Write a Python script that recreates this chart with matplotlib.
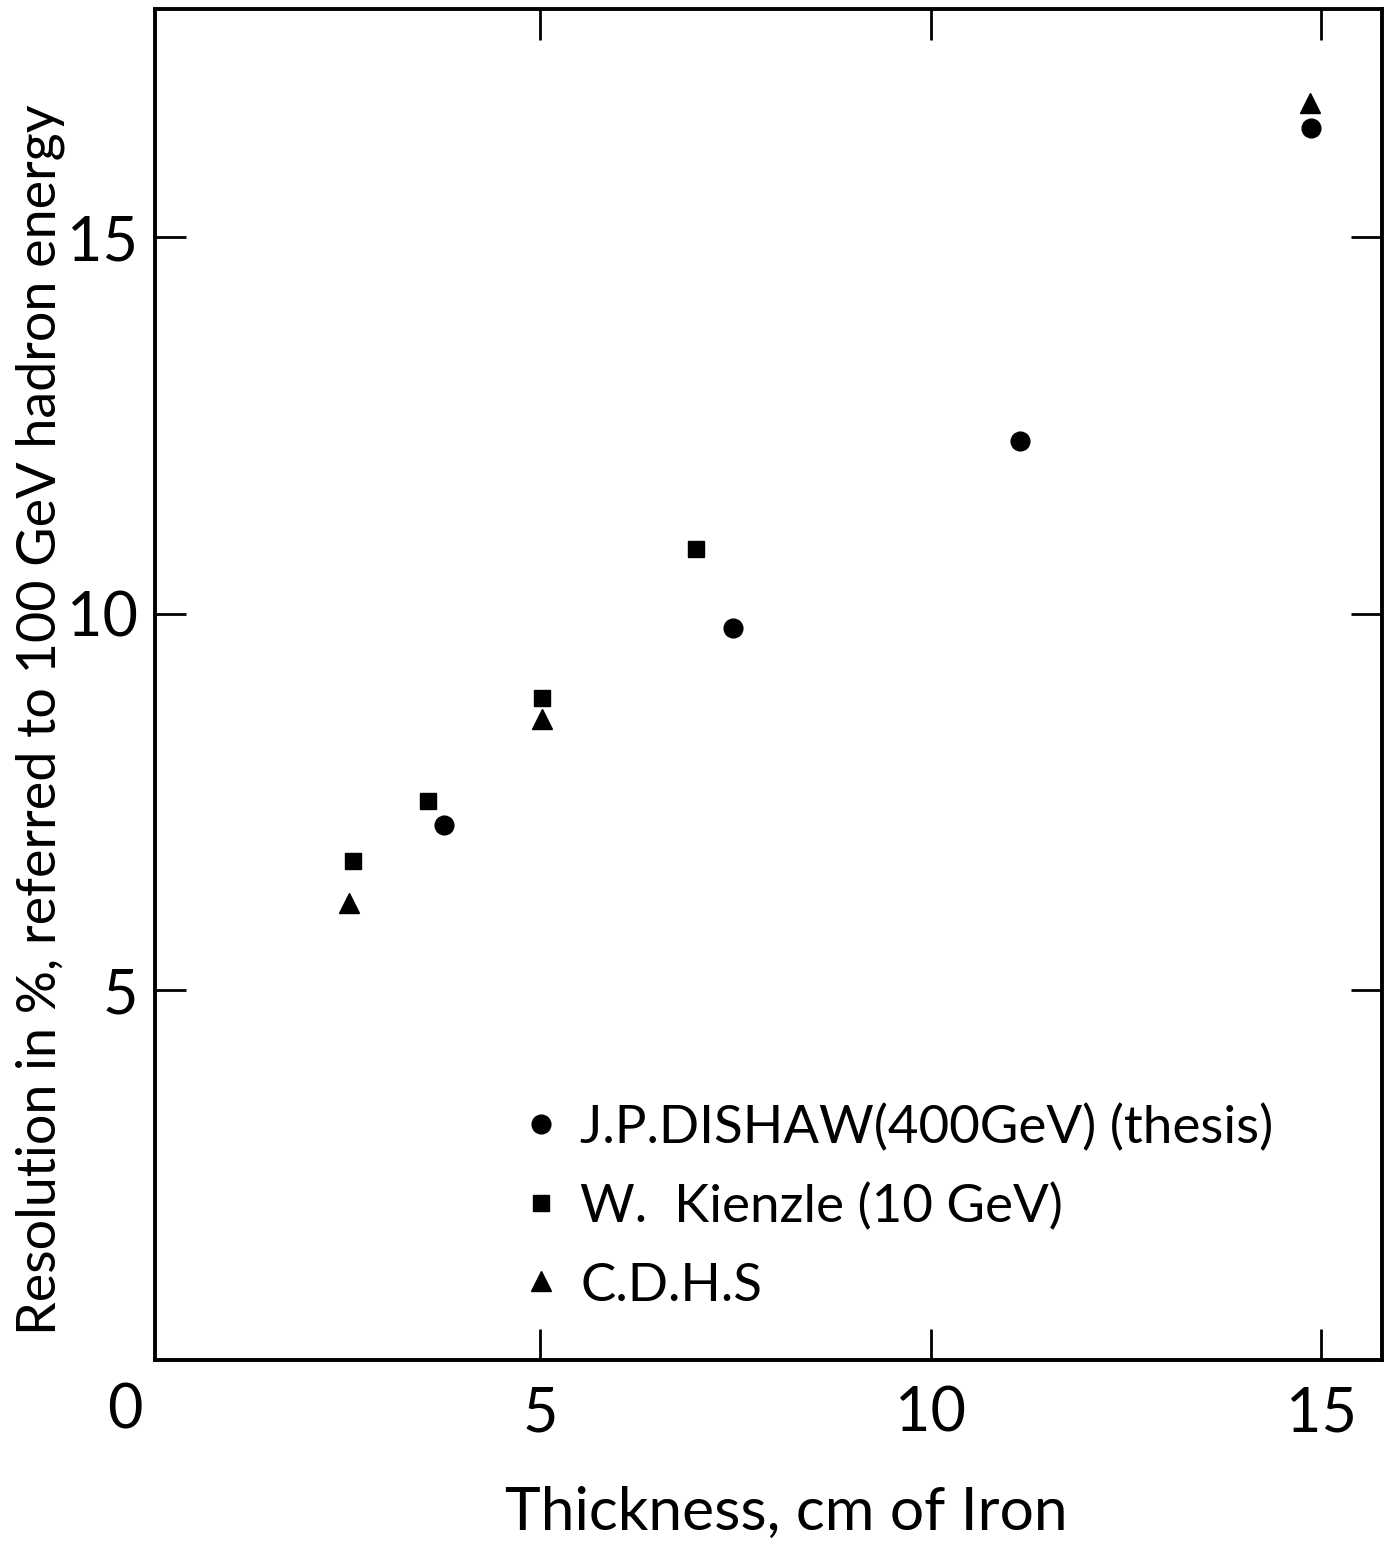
import matplotlib
matplotlib.use("Agg")
import matplotlib.pyplot as plt

# ---- data ----
dishaw_x = [3.77, 7.47, 11.15, 14.87]
dishaw_y = [7.19, 9.81, 12.29, 16.45]
kienzle_x = [2.61, 3.57, 5.03, 7.00]
kienzle_y = [6.72, 7.51, 8.88, 10.86]
cdhs_x = [2.55, 5.03, 14.86]
cdhs_y = [6.16, 8.60, 16.78]

series_labels = ["J.P.DISHAW(400GeV) (thesis)", "W.  Kienzle (10 GeV)", "C.D.H.S"]
x_ticks = [5, 10, 15]
y_ticks = [5, 10, 15]
x_label = "Thickness, cm of Iron"
y_label = "Resolution in %, referred to 100 GeV hadron energy"

plt.rcParams["font.family"] = ["Lato", "DejaVu Sans"]

W, H = 1400, 1547
fig = plt.figure(figsize=(W / 100, H / 100), dpi=100)
L, R, T, B = 155, 1382, 9, 1360
ax = fig.add_axes([L / W, 1 - B / H, (R - L) / W, (B - T) / H])

ax.plot(dishaw_x, dishaw_y, linestyle="none", marker="o", ms=13.5, color="black",
        label=series_labels[0])
ax.plot(kienzle_x, kienzle_y, linestyle="none", marker="s", ms=11, color="black",
        label=series_labels[1])
ax.plot(cdhs_x, cdhs_y, linestyle="none", marker="^", ms=15, color="black",
        label=series_labels[2])

ax.set_xlim(0.07, 15.78)
ax.set_ylim(0.09, 18.03)
ax.set_xticks(x_ticks)
ax.set_yticks(y_ticks)
ax.set_xticklabels([str(v) for v in x_ticks])
ax.set_yticklabels([str(v) for v in y_ticks])
ax.tick_params(direction="in", length=22, width=2.0, top=True, right=True,
               labelsize=44)
ax.tick_params(axis="x", pad=18)
ax.tick_params(axis="y", pad=12)
for s in ax.spines.values():
    s.set_linewidth(2.8)

# origin label "0" below the lower-left corner
ax.text(-0.31, -0.0375, "0", transform=ax.get_xaxis_transform(), ha="center",
        va="center", fontsize=44, clip_on=False)

ax.set_xlabel(x_label, fontsize=44)
ax.xaxis.set_label_coords((786 - L) / (R - L), -(1513 - B) / (B - T))
ax.xaxis.label.set_va("center")
ax.set_ylabel(y_label, fontsize=40, va="center")
ax.yaxis.set_label_coords((40 - L) / (R - L), 1 - (720 - T) / (B - T))

leg = ax.legend(loc="center left",
                bbox_to_anchor=((519 - L) / (R - L), 1 - (1207 - T) / (B - T)),
                frameon=False, fontsize=40, numpoints=1, handlelength=0.8,
                handletextpad=0.3, labelspacing=0.55, borderpad=0, borderaxespad=0)

# fit text sizes to the widths measured on the reference
fig.canvas.draw()
r = fig.canvas.get_renderer()
xl = ax.xaxis.label
xl.set_fontsize(xl.get_fontsize() * 563 / xl.get_window_extent(r).width)
yl = ax.yaxis.label
yl.set_fontsize(yl.get_fontsize() * 1230 / yl.get_window_extent(r).height)
lt = leg.get_texts()[0]
leg_fs = 40 * 692 / lt.get_window_extent(r).width
for t in leg.get_texts():
    t.set_fontsize(leg_fs)

fig.savefig("out.png", dpi=100)
